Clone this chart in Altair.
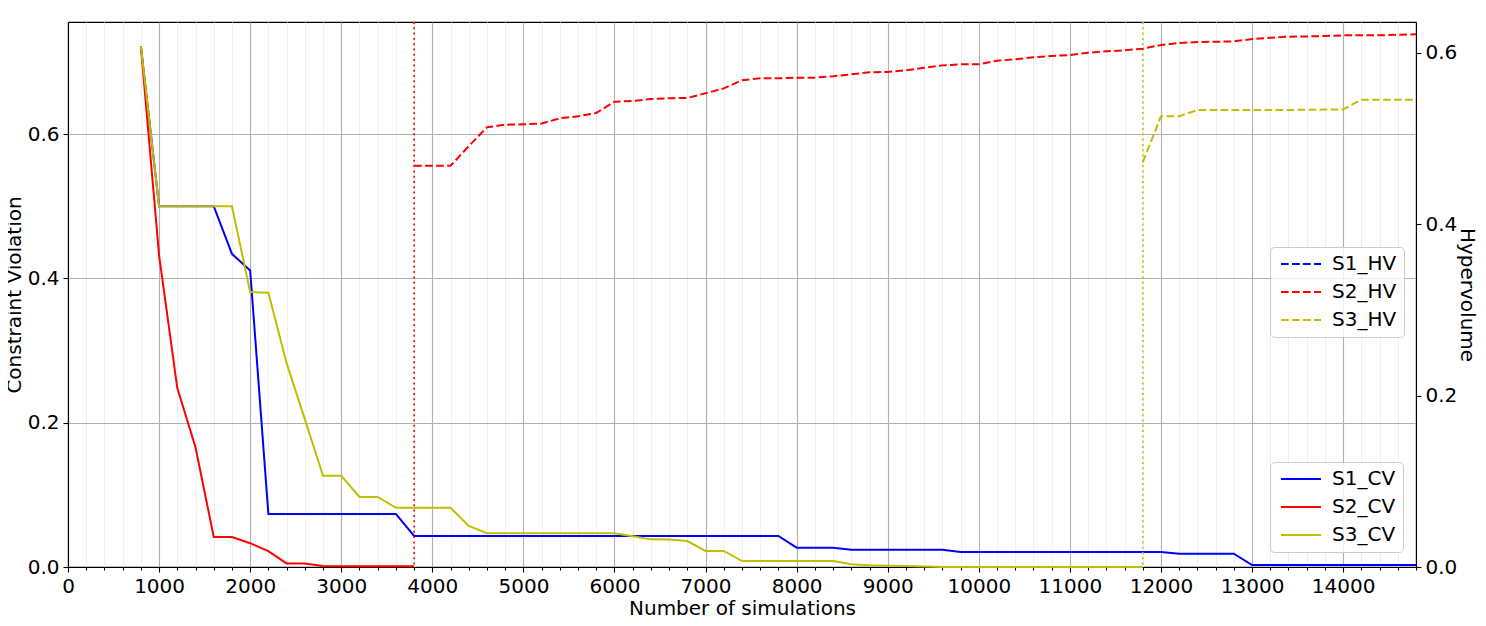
import altair as alt
import pandas as pd

# ---------------- data ----------------
SIMS_CV = list(range(800, 14801, 200))          # x grid of the CV series
S1_CV = [0.722,
         0.5, 0.5, 0.5, 0.5,
         0.434, 0.411,
         0.0736, 0.0736, 0.0736, 0.0736, 0.0736, 0.0736, 0.0736, 0.0736,
         0.043, 0.043, 0.043, 0.043, 0.043, 0.043, 0.043, 0.043, 0.043, 0.043,
         0.043, 0.043, 0.043, 0.043, 0.043, 0.043, 0.043, 0.043, 0.043, 0.043, 0.043,
         0.0268, 0.0268, 0.0268,
         0.024, 0.024, 0.024, 0.024, 0.024, 0.024,
         0.0208, 0.0208, 0.0208, 0.0208, 0.0208, 0.0208, 0.0208, 0.0208, 0.0208,
         0.0208, 0.0208, 0.0208,
         0.0185, 0.0185, 0.0185, 0.0185,
         0.0028, 0.0028, 0.0028, 0.0028, 0.0028, 0.0028, 0.0028, 0.0028, 0.0028, 0.0028]
S2_CV = [0.722, 0.432, 0.248, 0.166, 0.0415, 0.0415, 0.033, 0.022, 0.005, 0.005,
         0.0015, 0.001, 0.001, 0.001, 0.001, 0.001]
S3_CV = [0.722,
         0.5, 0.5, 0.5, 0.5, 0.5,
         0.381, 0.380, 0.2825, 0.205, 0.1264, 0.1264, 0.097, 0.097,
         0.082, 0.082, 0.082, 0.082,
         0.0568,
         0.0467, 0.0467, 0.0467, 0.0467, 0.0467, 0.0467, 0.0467, 0.0467,
         0.0425, 0.0383, 0.038, 0.036, 0.0222, 0.0222,
         0.0083, 0.0083, 0.0083, 0.0083, 0.0083, 0.0083,
         0.0037, 0.0023, 0.0018, 0.0014, 0.0008,
         0.0, 0.0, 0.0, 0.0, 0.0, 0.0, 0.0, 0.0, 0.0, 0.0, 0.0, 0.0]

S1_HV_X = []
S1_HV = []
S2_HV_X = list(range(3800, 14801, 200))
S2_HV = [0.468, 0.468, 0.468, 0.491, 0.513, 0.516, 0.5165, 0.5173, 0.5235, 0.5258,
         0.5297, 0.5429, 0.5437, 0.546, 0.5468, 0.5472, 0.5526, 0.5584, 0.5678, 0.5701,
         0.5701, 0.5709, 0.5709, 0.5724, 0.5748, 0.5771, 0.5775, 0.5794, 0.5823, 0.5852,
         0.5864, 0.5864, 0.5907, 0.5922, 0.5946, 0.5961, 0.5973, 0.6, 0.6016, 0.6027,
         0.6047, 0.6089, 0.6113, 0.6124, 0.6128, 0.6132, 0.6159, 0.6175, 0.6186, 0.619,
         0.6194, 0.6202, 0.6202, 0.6202, 0.621, 0.6214]
S3_HV_X = list(range(11800, 14801, 200))
S3_HV = [0.4722, 0.5258, 0.5258, 0.533, 0.533, 0.533, 0.533, 0.533, 0.5332, 0.5334,
         0.5336, 0.5338, 0.5452, 0.5452, 0.5452, 0.5452]

CV_NAMES = ["S1_CV", "S2_CV", "S3_CV"]
HV_NAMES = ["S1_HV", "S2_HV", "S3_HV"]
COLORS = ["#0000ff", "#ff0000", "#bfbf00"]
X_TICKS = list(range(0, 14801, 200))
Y_TICKS = [0.0, 0.2, 0.4, 0.6]

# ---------------- tables ----------------
cv_rows = []
for name, ys in zip(CV_NAMES, [S1_CV, S2_CV, S3_CV]):
    for x, y in zip(SIMS_CV, ys):
        cv_rows.append({"sims": x, "value": y, "series": name})
cv_df = pd.DataFrame(cv_rows)

hv_rows = []
for name, xs, ys in zip(HV_NAMES, [S1_HV_X, S2_HV_X, S3_HV_X], [S1_HV, S2_HV, S3_HV]):
    for x, y in zip(xs, ys):
        hv_rows.append({"sims": x, "value": y, "series": name})
hv_df = pd.DataFrame(hv_rows)

rule_df = pd.DataFrame({"sims": [S2_HV_X[0], S3_HV_X[0]], "series": ["S2_HV", "S3_HV"]})

x_scale = alt.Scale(domain=[0, 14800], nice=False, zero=False)


def x_axis():
    return alt.Axis(
        values=X_TICKS,
        labelExpr="datum.value % 1000 === 0 ? datum.label : ''",
        format="d",
        labelOverlap=False,
        labelFlush=False,
        title="Number of simulations",
        titlePadding=2,
        tickSize={"condition": {"test": "datum.value % 1000 === 0", "value": 5}, "value": 3},
        gridColor={"condition": {"test": "datum.value % 1000 === 0", "value": "#b0b0b0"},
                   "value": "#efefef"},
    )


def x_enc():
    return alt.X("sims:Q", scale=x_scale, axis=x_axis())


# custom horizontal stroke symbol: 40 px long with symbolSize 100
SYMBOL = "M-4,0H4"

cv_lines = alt.Chart(cv_df).mark_line(strokeWidth=2).encode(
    x=x_enc(),
    y=alt.Y("value:Q",
            scale=alt.Scale(domain=[0, 0.7553], nice=False),
            axis=alt.Axis(values=Y_TICKS, format=".1f", title="Constraint Violation",
                          gridColor="#b0b0b0", titlePadding=3, tickSize=5)),
    color=alt.Color("series:N",
                    scale=alt.Scale(domain=CV_NAMES, range=COLORS),
                    legend=alt.Legend(title=None, orient="none", legendX=1202, legendY=440)),
    order=alt.Order("series:N"),
)

rule_red = alt.Chart(rule_df[rule_df.series == "S2_HV"]).mark_rule(
    color="#ff0000", strokeDash=[2, 3.3], strokeWidth=1.6
).encode(x=x_enc())
rule_olive = alt.Chart(rule_df[rule_df.series == "S3_HV"]).mark_rule(
    color="#bfbf00", strokeDash=[2, 3.3], strokeWidth=1.6
).encode(x=x_enc())

hv_lines = alt.Chart(hv_df).mark_line(strokeWidth=2, strokeDash=[7.7, 3.3]).encode(
    x=x_enc(),
    y=alt.Y("value:Q",
            scale=alt.Scale(domain=[0, 0.6358], nice=False),
            axis=alt.Axis(values=Y_TICKS, format=".1f", title="Hypervolume", orient="right",
                          grid=False, titlePadding=0, tickSize=5)),
    color=alt.Color("series:N",
                    scale=alt.Scale(domain=HV_NAMES, range=COLORS),
                    legend=alt.Legend(title=None, orient="none", legendX=1202, legendY=225,
                                      symbolDash=[7.7, 3.3])),
)

chart = alt.layer(cv_lines, rule_red, rule_olive, hv_lines).resolve_scale(
    y="independent", color="independent"
).resolve_axis(y="independent").properties(
    width=1348, height=545,
    padding={"left": 60, "top": 14, "right": 62, "bottom": 51},
    autosize=alt.AutoSizeParams(type="none"),
).configure(
    font="DejaVu Sans",
).configure_axis(
    labelFont="DejaVu Sans", titleFont="DejaVu Sans",
    labelFontSize=20, titleFontSize=20, titleFontWeight="normal",
    labelColor="black", titleColor="black",
    tickColor="black", domainColor="black", domainWidth=1.1, tickWidth=1.1,
    gridWidth=1.1, labelPadding=4,
).configure_legend(
    labelFont="DejaVu Sans", labelFontSize=20, labelColor="black",
    symbolType=SYMBOL, symbolSize=100, symbolStrokeWidth=2, symbolOffset=14,
    strokeColor="#cccccc", fillColor="rgba(255,255,255,0.8)", cornerRadius=4,
    padding=7, rowPadding=8, labelOffset=21, labelLimit=200,
).configure_view(
    stroke="black", strokeWidth=1.1,
)

chart.save("out.html", embed_options={"renderer": "svg", "actions": False})
